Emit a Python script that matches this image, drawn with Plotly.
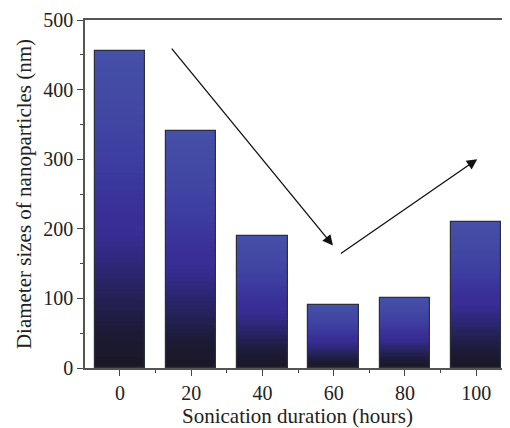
import plotly.graph_objects as go
from plotly.colors import sample_colorscale

hours = [0, 20, 40, 60, 80, 100]
diameters = [455, 340, 190, 90, 100, 210]
x_ticks = [0, 20, 40, 60, 80, 100]
y_ticks = [0, 100, 200, 300, 400, 500]

grad = [
    [0.0, "#1a1824"],
    [0.1, "#1c1a33"],
    [0.2, "#22204e"],
    [0.3, "#2b2670"],
    [0.42, "#372d92"],
    [0.5, "#392f98"],
    [0.65, "#3d3da0"],
    [0.82, "#4248a4"],
    [1.0, "#4550a7"],
]

N = 60
BAR_W = 14.2
fig = go.Figure()
cols = sample_colorscale(grad, [(i + 0.5) / N for i in range(N)])
for i in range(N):
    fig.add_trace(go.Bar(
        x=hours,
        y=[v / N * 1.02 for v in diameters],
        base=[v * i / N for v in diameters],
        width=BAR_W,
        marker=dict(color=cols[i], line=dict(width=0)),
        showlegend=False, hoverinfo="skip",
    ))
# outline
fig.add_trace(go.Bar(
    x=hours, y=diameters, width=BAR_W,
    marker=dict(color="rgba(0,0,0,0)", line=dict(color="#2e2e3a", width=1.2)),
    showlegend=False,
))

# arrows (trend indicators)
arrows = [
    dict(x0=14.2, y0=461, x1=59.8, y1=176),
    dict(x0=61.6, y0=163, x1=100.3, y1=300),
]
for a in arrows:
    fig.add_annotation(
        x=a["x1"], y=a["y1"], ax=a["x0"], ay=a["y0"],
        xref="x", yref="y", axref="x", ayref="y",
        showarrow=True, arrowhead=2, arrowsize=1.6, arrowwidth=1.3,
        arrowcolor="#111111", text="",
    )

tick_font = dict(family="Liberation Serif, DejaVu Serif, serif", size=20, color="#222222")
title_font = dict(family="Liberation Serif, DejaVu Serif, serif", size=21, color="#222222")
fig.update_layout(
    width=502, height=420,
    margin=dict(l=77, r=0, t=12, b=60),
    barmode="overlay",
    plot_bgcolor="white", paper_bgcolor="white",
    font=tick_font,
    bargap=0,
)
fig.update_xaxes(
    range=[-9.8, 109.5],
    tickvals=x_ticks, ticktext=[str(t) for t in x_ticks],
    ticks="outside", ticklen=6, tickwidth=1, tickcolor="#444",
    minor=dict(tickvals=[10, 30, 50, 70, 90], ticks="outside", ticklen=3, tickcolor="#444"),
    showline=True, linecolor="#555", linewidth=1.5, mirror=True,
    showgrid=False, zeroline=False,
    title=dict(text="Sonication duration (hours)", standoff=4, font=title_font),
    tickfont=tick_font,
)
fig.update_yaxes(
    range=[0, 500],
    tickvals=y_ticks, ticktext=[str(t) for t in y_ticks],
    ticks="outside", ticklen=6, tickwidth=1, tickcolor="#444",
    minor=dict(tickvals=[50, 150, 250, 350, 450], ticks="outside", ticklen=3, tickcolor="#444"),
    showline=True, linecolor="#555", linewidth=1.5,
    showgrid=False, zeroline=False,
    title=dict(text="Diameter sizes of nanoparticles (nm)", standoff=6, font=title_font),
    tickfont=tick_font,
)

fig.write_html("out.html")
